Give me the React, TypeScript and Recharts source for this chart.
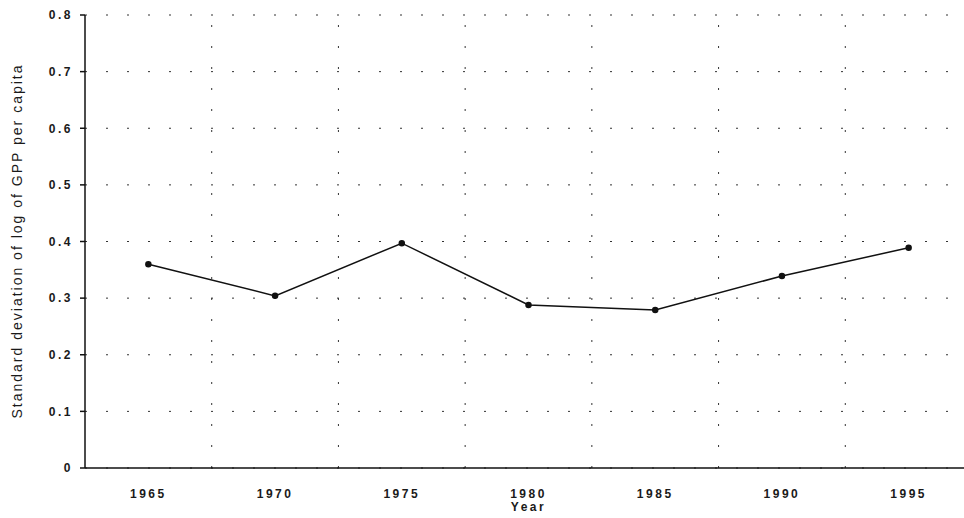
import { CartesianGrid, Label, Line, LineChart, ReferenceLine, XAxis, YAxis } from "recharts";

const years = [1965, 1970, 1975, 1980, 1985, 1990, 1995];
const sdLogGpp = [0.36, 0.304, 0.397, 0.288, 0.279, 0.339, 0.389];
const yTicks = [0, 0.1, 0.2, 0.3, 0.4, 0.5, 0.6, 0.7, 0.8];
const yearBounds = [1967.5, 1972.5, 1977.5, 1982.5, 1987.5, 1992.5];

const rows = years.map((year, i) => ({ year, sd: sdLogGpp[i] }));

const font = {
  fontFamily: "'Liberation Sans', Arial, sans-serif",
  fontSize: 12,
  fontWeight: 700,
  letterSpacing: 2.5,
  fill: "#1a1a1a",
};
const gridDots = "2 19";

export default function App() {
  return (
    <div style={{ position: "fixed", left: 0, top: 0, width: 964, height: 518, overflow: "hidden", background: "#fff" }}>
      <LineChart width={972} height={518} data={rows} margin={{ top: 15, right: 0, bottom: 0, left: 0 }}>
        <CartesianGrid vertical={false} stroke="#333" strokeDasharray={gridDots} />
        {yearBounds.map((b) => (
          <ReferenceLine key={b} x={b} stroke="#333" strokeDasharray={gridDots} />
        ))}
        <XAxis
          dataKey="year"
          type="number"
          domain={[1962.5, 1997.5]}
          ticks={years}
          tickFormatter={(v) => String(v)}
          tickLine={false}
          tickMargin={15}
          height={50}
          stroke="#111"
          strokeWidth={1.5}
          tick={font}
        >
          <Label value="Year" position="insideBottom" offset={7} style={font} />
        </XAxis>
        <YAxis
          domain={[0, 0.8]}
          ticks={yTicks}
          tickFormatter={(v) => (v === 0 ? "0" : v.toFixed(1))}
          width={85}
          tickSize={5}
          tickMargin={7}
          stroke="#111"
          strokeWidth={1.5}
          tick={font}
        >
          <Label
            content={() => (
              <text
                x={17}
                y={241}
                transform="rotate(-90 17 241)"
                textAnchor="middle"
                dominantBaseline="central"
                style={{ ...font, fontSize: 14, fontWeight: 400, letterSpacing: 2 }}
              >
                Standard deviation of log of GPP per capita
              </text>
            )}
          />
        </YAxis>
        <Line
          dataKey="sd"
          stroke="#111"
          strokeWidth={1.5}
          dot={{ r: 2.5, fill: "#111", stroke: "#111" }}
          isAnimationActive={false}
        />
      </LineChart>
    </div>
  );
}
